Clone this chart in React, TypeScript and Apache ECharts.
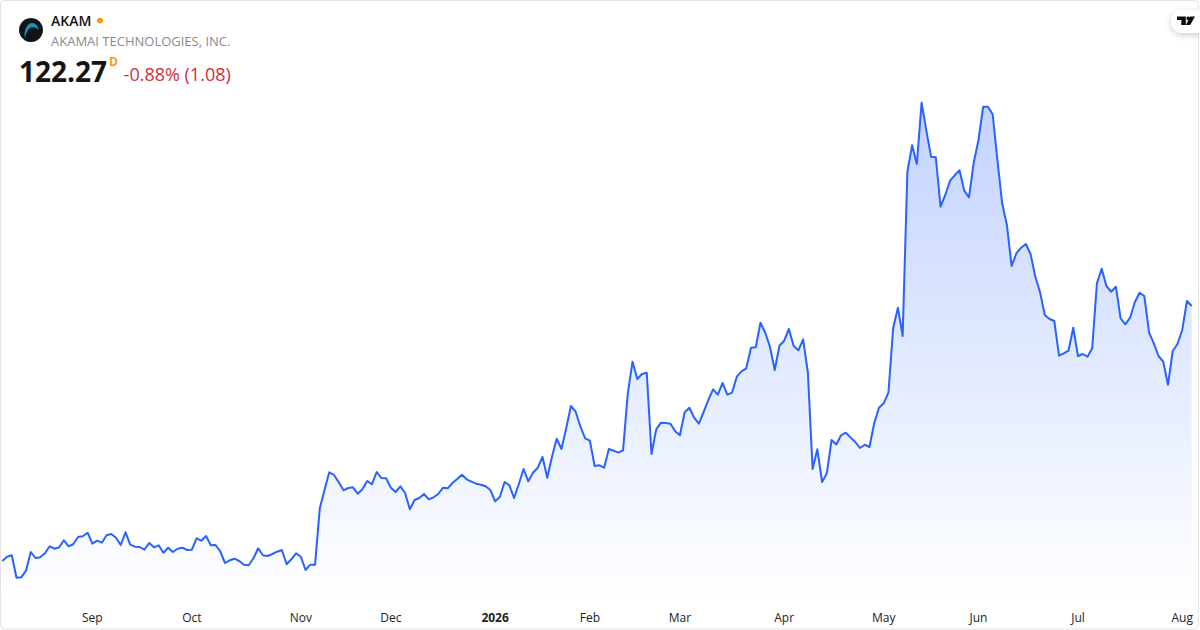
import React, { useEffect, useRef } from "react";
import * as echarts from "echarts";

const closes: number[] = [
  71.27, 72.13, 72.41, 67.93, 68.01, 69.33, 73.07, 71.87, 72.01, 72.81,
  74.21, 73.73, 74.01, 75.41, 74.21, 74.67, 76.07, 76.21, 76.93, 74.73,
  75.33, 74.93, 76.41, 76.67, 75.93, 74.47, 77.01, 74.53, 74.13, 74.07,
  73.53, 74.87, 74.01, 74.41, 72.93, 73.93, 73.07, 73.73, 73.93, 73.47,
  73.53, 75.81, 75.33, 76.27, 74.41, 74.47, 73.21, 70.87, 71.41, 71.73,
  71.27, 70.53, 70.41, 71.81, 73.81, 72.41, 72.27, 72.67, 73.13, 73.47,
  70.61, 71.61, 72.81, 72.13, 69.47, 70.53, 70.53, 81.81, 85.47, 89.01,
  88.47, 87.01, 85.41, 85.87, 86.01, 84.73, 85.61, 87.27, 86.61, 89.07,
  87.87, 87.81, 85.93, 85.07, 86.21, 84.87, 81.61, 83.47, 83.87, 84.67,
  83.61, 84.01, 84.67, 85.93, 85.81, 86.87, 87.67, 88.53, 87.61, 87.13,
  86.73, 86.53, 86.21, 85.47, 83.21, 84.07, 87.07, 86.41, 83.87, 86.67,
  89.67, 87.21, 88.93, 89.93, 92.07, 87.93, 92.13, 95.73, 93.67, 97.81,
  102.27, 101.13, 98.13, 95.81, 95.33, 90.27, 90.41, 89.93, 93.67, 93.33,
  92.93, 93.41, 104.81, 111.13, 107.67, 108.67, 108.93, 92.67, 97.61, 98.93,
  98.87, 98.73, 97.21, 96.41, 101.01, 101.93, 99.93, 98.73, 101.07, 103.47,
  105.61, 104.53, 106.87, 104.53, 104.93, 108.13, 109.21, 109.81, 113.93, 114.01,
  118.93, 116.93, 114.13, 109.47, 114.33, 115.33, 117.67, 114.27, 113.41, 115.61,
  108.97, 89.67, 93.61, 87.07, 88.81, 95.47, 94.57, 96.41, 96.93, 95.99,
  95.07, 93.87, 94.53, 94.07, 98.81, 101.93, 102.81, 104.93, 117.81, 121.93,
  116.27, 149.13, 154.41, 150.67, 162.93, 157.33, 152.13, 152.01, 142.13, 144.47,
  147.33, 148.41, 149.41, 145.33, 144.01, 150.93, 155.47, 162.13, 162.13, 160.61,
  151.47, 142.81, 138.47, 130.27, 132.81, 133.93, 134.67, 132.67, 128.13, 125.01,
  120.47, 119.67, 119.27, 112.33, 112.81, 113.33, 117.93, 112.27, 112.67, 112.13,
  113.81, 126.81, 129.73, 126.27, 125.13, 126.13, 119.81, 118.61, 119.93, 123.01,
  124.93, 124.27, 117.01, 114.81, 112.27, 111.13, 106.53, 113.27, 114.67, 117.47,
  123.27, 122.27,
];

const tickIndices: number[] = [19, 40, 63, 82, 104, 124, 143, 165, 186, 206, 227, 249];
const tickLabels: string[] = ["Sep", "Oct", "Nov", "Dec", "2026", "Feb", "Mar", "Apr", "May", "Jun", "Jul", "Aug"];
const categories: number[] = closes.map((_, i) => i);

const FONT = '"Open Sans", "Noto Sans", sans-serif';

export default function App() {
  const ref = useRef<HTMLDivElement>(null);

  useEffect(() => {
    document.body.style.margin = "0";
    const chart = echarts.init(ref.current!, undefined, { renderer: "svg", width: 1200, height: 630 });
    echarts.graphic.registerShape(
      "akamswoosh",
      echarts.graphic.extendPath(
        "M3 17C1 9 6 1 11 2C14 2.5 16 5 17 9C14 6 10 5.5 8 7C5 9 4 13 3 17Z",
        {}
      ) as any
    );
    chart.setOption({
      animation: false,
      backgroundColor: "#ffffff",
      grid: { left: 2.3, width: 1189.4, top: 0, height: 600, containLabel: false },
      tooltip: { show: false },
      xAxis: {
        type: "category",
        data: categories,
        boundaryGap: false,
        axisLine: { show: false },
        axisTick: { show: false },
        splitLine: { show: false },
        axisLabel: {
          interval: (i: number) => tickIndices.includes(i),
          hideOverlap: false,
          margin: 11,
          color: "#222222",
          fontFamily: FONT,
          fontSize: 12,
          formatter: (v: string) => {
            const k = tickIndices.indexOf(Number(v));
            const t = k >= 0 ? tickLabels[k] : "";
            return t === "2026" ? `{b|${t}}` : t;
          },
          rich: { b: { fontWeight: 700, fontSize: 12, color: "#222222", fontFamily: FONT } },
        },
      },
      yAxis: { type: "value", min: 63.47, max: 183.47, show: false, splitLine: { show: false } },
      series: [
        {
          type: "line",
          data: closes,
          showSymbol: false,
          silent: true,
          smooth: false,
          lineStyle: { color: "#2962ff", width: 2, join: "round" },
          areaStyle: {
            origin: "start",
            opacity: 1,
            color: new echarts.graphic.LinearGradient(0, 0, 0, 1, [
              { offset: 0, color: "rgba(41,98,255,0.28)" },
              { offset: 1, color: "rgba(41,98,255,0)" },
            ]),
          },
        },
      ],
      graphic: [
        { type: "rect", z: 100, silent: true, shape: { x: 0.5, y: 0.5, width: 1198, height: 628.5, r: 4 }, style: { fill: "none", stroke: "#e3e3e3", lineWidth: 1 } },
        { type: "circle", z: 101, shape: { cx: 31, cy: 30, r: 12 }, style: { fill: "#0f1419" } },
        { type: "akamswoosh", z: 102, x: 22, y: 21, style: { fill: "#1f8fc0" } },
        { type: "text", z: 101, x: 51, y: 20.5, style: { text: "AKAM", font: `600 14px ${FONT}`, fill: "#141414", textVerticalAlign: "middle" } },
        { type: "circle", z: 101, shape: { cx: 100, cy: 20.5, r: 3 }, style: { fill: "#ff9800" } },
        { type: "text", z: 101, x: 51, y: 40.5, style: { text: "AKAMAI TECHNOLOGIES, INC.", font: `13px ${FONT}`, fill: "#8a8a8a", textVerticalAlign: "middle" } },
        { type: "text", z: 101, x: 19, y: 71, style: { text: "122.27", font: `700 28px ${FONT}`, fill: "#141414", textVerticalAlign: "middle" } },
        { type: "text", z: 101, x: 109, y: 61, style: { text: "D", font: `700 12px ${FONT}`, fill: "#ff9800", textVerticalAlign: "middle" } },
        { type: "text", z: 101, x: 123.6, y: 74, style: { text: "-0.88% (1.08)", font: `18px ${FONT}`, fill: "#cc2f3c", textVerticalAlign: "middle" } },
        { type: "rect", z: 101, shape: { x: 1171, y: 10, width: 40, height: 23, r: 11.5 }, style: { fill: "#ffffff", shadowBlur: 6, shadowColor: "rgba(0,0,0,0.2)", shadowOffsetY: 2 } },
        { type: "polygon", z: 102, shape: { points: [[1177, 16.5], [1185.8, 16.5], [1185.8, 25], [1181.3, 25], [1181.3, 20], [1177, 20]] }, style: { fill: "#0b0b0b" } },
        { type: "circle", z: 102, shape: { cx: 1188.2, cy: 18.4, r: 1.8 }, style: { fill: "#0b0b0b" } },
        { type: "polygon", z: 102, shape: { points: [[1190.2, 16.5], [1195, 16.5], [1190.2, 25], [1185.8, 25]] }, style: { fill: "#0b0b0b" } },
        { type: "rect", z: 103, shape: { x: 1199, y: 0, width: 1, height: 630 }, style: { fill: "#ffffff" } },
      ],
    });
    return () => chart.dispose();
  }, []);

  return <div ref={ref} style={{ width: 1200, height: 630 }} />;
}
